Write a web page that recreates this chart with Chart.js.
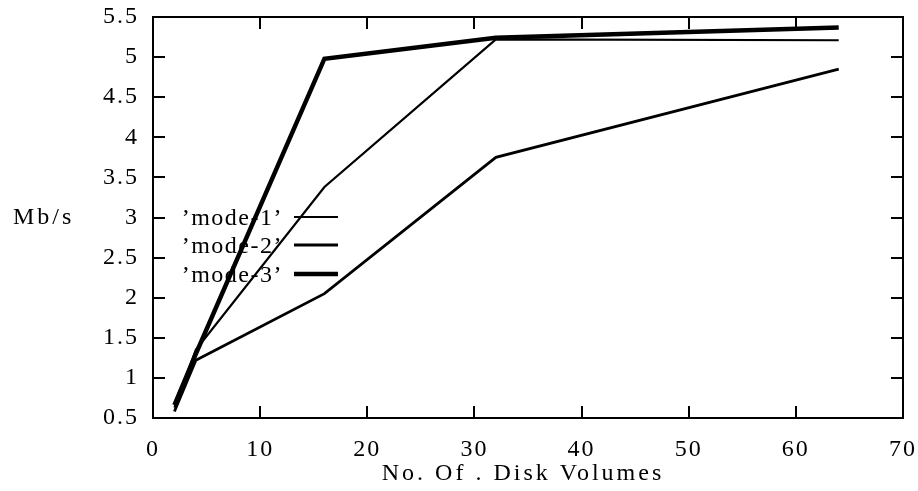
<!DOCTYPE html>
<html>
<head>
<meta charset="utf-8">
<script src="https://cdn.jsdelivr.net/npm/chart.js@4/dist/chart.umd.min.js"></script>
<style>
html,body{margin:0;padding:0;background:#fff;}
#wrap{width:918px;height:491px;}
</style>
</head>
<body>
<div id="wrap"><canvas id="c" width="918" height="491"></canvas></div>
<script>
// ---- data ----
const diskVolumes = [2, 4, 16, 32, 64];
const mode1 = [0.63, 1.35, 3.38, 5.22, 5.21];
const mode2 = [0.58, 1.22, 2.05, 3.75, 4.85];
const mode3 = [0.66, 1.30, 4.98, 5.24, 5.37];
const seriesLabels = ["\u2019mode-1\u2019", "\u2019mode-2\u2019", "\u2019mode-3\u2019"];
const xTitle = "No. Of . Disk Volumes";
const yTitle = "Mb/s";

const FONT = "'Liberation Serif', 'Times New Roman', serif";

function pts(ys){ return diskVolumes.map((x,i)=>({x:x, y:ys[i]})); }

const framePlugin = {
  id: 'frame',
  beforeDraw(chart){
    chart.ctx.letterSpacing = '2px';
  },
  afterDraw(chart){
    const ctx = chart.ctx;
    const a = chart.chartArea;
    const xs = chart.scales.x, ys = chart.scales.y;
    ctx.save();
    ctx.letterSpacing = '0px';
    ctx.strokeStyle = '#000';
    ctx.lineWidth = 2;
    ctx.lineCap = 'butt';
    ctx.strokeRect(a.left, a.top, a.right - a.left, a.bottom - a.top);
    const TL = 12;
    ctx.beginPath();
    xs.ticks.forEach(t => {
      const px = Math.round(xs.getPixelForValue(t.value));
      if (px <= a.left + 1 || px >= a.right - 1) return;
      ctx.moveTo(px, a.bottom); ctx.lineTo(px, a.bottom - TL);
      ctx.moveTo(px, a.top); ctx.lineTo(px, a.top + TL);
    });
    ys.ticks.forEach(t => {
      const py = Math.round(ys.getPixelForValue(t.value));
      if (py <= a.top + 1 || py >= a.bottom - 1) return;
      ctx.moveTo(a.left, py); ctx.lineTo(a.left + TL, py);
      ctx.moveTo(a.right, py); ctx.lineTo(a.right - TL, py);
    });
    ctx.stroke();

    // titles
    ctx.fillStyle = '#000';
    ctx.font = '24px ' + FONT;
    ctx.letterSpacing = '3px';
    ctx.textAlign = 'left';
    ctx.textBaseline = 'middle';
    ctx.fillText(yTitle, 13, (a.top + a.bottom) / 2);
    ctx.textAlign = 'center';
    ctx.textBaseline = 'alphabetic';
    ctx.fillText(xTitle, 523, 480);

    // legend
    ctx.letterSpacing = '1.5px';
    ctx.textAlign = 'right';
    const rowY = [217, 245, 274];
    chart.data.datasets.forEach((ds, i) => {
      const y = rowY[i];
      ctx.fillText(ds.label, 283, y + 8);
      ctx.beginPath();
      ctx.lineWidth = ds.borderWidth;
      ctx.moveTo(294, y); ctx.lineTo(338, y);
      ctx.stroke();
    });
    ctx.restore();
  }
};

new Chart(document.getElementById('c'), {
  type: 'line',
  data: {
    datasets: [
      { label: seriesLabels[0], data: pts(mode1), borderColor: '#000', borderWidth: 2.2 },
      { label: seriesLabels[1], data: pts(mode2), borderColor: '#000', borderWidth: 2.8 },
      { label: seriesLabels[2], data: pts(mode3), borderColor: '#000', borderWidth: 4.5 }
    ]
  },
  options: {
    responsive: false,
    animation: false,
    devicePixelRatio: 1,
    layout: { padding: { top: 17, right: 15, left: 0, bottom: 0 } },
    elements: { point: { radius: 0 }, line: { tension: 0, fill: false, borderJoinStyle: 'miter' } },
    plugins: { legend: { display: false }, tooltip: { enabled: false } },
    scales: {
      x: {
        type: 'linear', min: 0, max: 70,
        grid: { display: false, drawTicks: false },
        border: { display: false },
        ticks: { stepSize: 10, color: '#000', font: { family: FONT, size: 24 }, padding: 17, maxRotation: 0 },
        afterFit(s){ s.height = 73; s.paddingLeft = 0; s.paddingRight = 0; }
      },
      y: {
        min: 0.5, max: 5.5,
        grid: { display: false, drawTicks: false },
        border: { display: false },
        ticks: { stepSize: 0.5, color: '#000', font: { family: FONT, size: 24 }, padding: 14,
                 callback: v => String(v) },
        afterFit(s){ s.width = 153; s.paddingTop = 0; s.paddingBottom = 0; }
      }
    }
  },
  plugins: [framePlugin]
});
</script>
</body>
</html>
